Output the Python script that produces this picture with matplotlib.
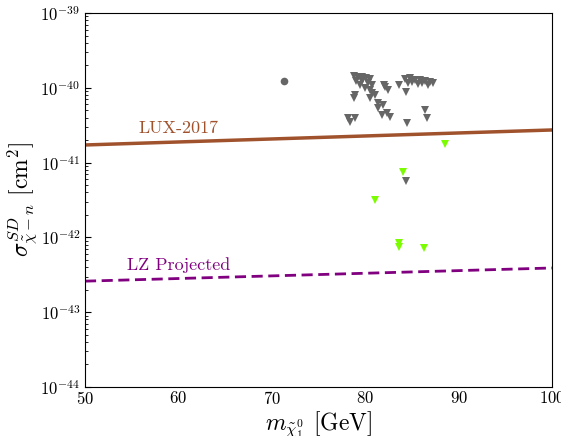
import numpy as np
import matplotlib
matplotlib.use("Agg")
import matplotlib.pyplot as plt

plt.rcParams['mathtext.fontset'] = 'cm'
plt.rcParams['font.family'] = 'serif'
plt.rcParams['font.serif'] = ['cmr10', 'DejaVu Serif']
plt.rcParams['axes.formatter.use_mathtext'] = True

# Limit lines (mass in GeV, cross section in cm^2)
lux_mass = [50, 100]
lux_sigma = [1.72e-41, 2.73e-41]
lz_mass = [50, 100]
lz_sigma = [2.6e-43, 3.9e-43]

# Excluded points (grey)
grey_mass = [78.80, 79.23, 79.66, 80.09, 80.51, 79.01, 79.66, 80.30, 80.73, 79.44,
             79.98, 80.51, 80.73, 81.05, 78.91, 78.80, 80.51, 81.37, 81.37, 78.16,
             78.91, 78.37, 81.80, 82.01, 82.12, 82.44, 83.62, 84.37, 81.91, 82.33,
             82.66, 84.48, 86.40, 86.62, 84.26, 84.80, 85.33, 85.87, 86.40, 86.94,
             84.58, 85.65, 86.72, 85.01, 86.08, 87.26, 84.37]
grey_sigma = [1.44e-40, 1.39e-40, 1.39e-40, 1.35e-40, 1.31e-40, 1.23e-40, 1.23e-40, 1.16e-40, 1.09e-40, 1.09e-40,
              9.9e-41, 9.35e-41, 8.5e-41, 8.01e-41, 8.01e-41, 7.31e-41, 7.31e-41, 6.27e-41, 5.37e-41, 3.94e-41,
              3.94e-41, 3.49e-41, 4.33e-41, 1.09e-40, 1.03e-40, 9.35e-41, 1.09e-40, 8.79e-41, 5.89e-41, 4.60e-41,
              4.07e-41, 3.38e-41, 5.05e-41, 3.94e-41, 1.31e-40, 1.35e-40, 1.27e-40, 1.27e-40, 1.23e-40, 1.20e-40,
              1.16e-40, 1.12e-40, 1.09e-40, 1.20e-40, 1.16e-40, 1.16e-40, 5.67e-42]
circle_mass = [71.3]
circle_sigma = [1.24e-40]

# Allowed points (green)
green_mass = [88.51, 84.02, 81.05, 83.59, 83.65, 86.30]
green_sigma = [1.77e-41, 7.55e-42, 3.16e-42, 8.41e-43, 7.45e-43, 7.14e-43]

fig = plt.figure(figsize=(5.61, 4.36), dpi=100)
ax = fig.add_axes([0.1515, 0.1124, 0.8325, 0.8578])

ax.plot(lux_mass, lux_sigma, color='#a0522d', lw=2.5)
ax.plot(lz_mass, lz_sigma, color='#800080', lw=2, ls=(0, (4, 2)))

ax.plot(grey_mass, grey_sigma, 'v', color='#666666', ms=6, mew=0)
ax.plot(circle_mass, circle_sigma, 'o', color='#666666', ms=5.5, mew=0)
ax.plot(green_mass, green_sigma, 'v', color='#7cfc00', ms=6, mew=0)

ax.text(55.7, 2.27e-41, 'LUX-2017', color='#a0522d', fontsize=13, va='bottom')
ax.text(54.5, 3.34e-43, 'LZ Projected', color='#800080', fontsize=13, va='bottom')

ax.set_yscale('log')
ax.set_xlim(50, 100)
ax.set_ylim(1e-44, 1e-39)
ax.set_xticks([50, 60, 70, 80, 90, 100])
ax.tick_params(axis='x', length=0, labelsize=12, pad=2)
ax.tick_params(axis='y', which='major', direction='in', length=4, labelsize=12)
ax.tick_params(axis='y', which='minor', direction='in', length=2)

ax.set_xlabel(r'$m_{\tilde{\chi}_1^0}$ [GeV]', fontsize=17, labelpad=2)
ax.set_ylabel(r'$\sigma^{SD}_{\tilde{\chi}-n}$ [cm$^2$]', fontsize=17)
ax.yaxis.set_label_coords(-0.097, 0.5)

fig.savefig('out.png', dpi=100)
